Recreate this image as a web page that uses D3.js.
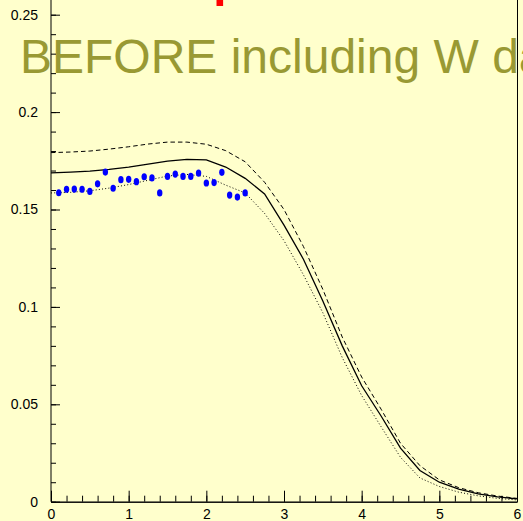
<!DOCTYPE html>
<html lang="en">
<head>
    <meta charset="UTF-8">
    <title>BEFORE including W data</title>
    <script src="https://d3js.org/d3.v7.min.js"></script>
    <style>
        body {
            margin: 0;
            padding: 0;
            background: #ffffcc;
        }
        svg {
            display: block;
            font-family: "Liberation Sans", Arial, sans-serif;
        }
        .axis text {
            font-size: 14px;
            fill: #000;
        }
        .axis path, .axis line {
            stroke: #000;
        }
    </style>
</head>
<body>
    <svg width="523" height="521"></svg>

    <script>
        // curve grid (x)
        const xGrid = [0, 0.25, 0.5, 0.75, 1, 1.25, 1.5, 1.75, 2, 2.25, 2.5, 2.75, 3,
                       3.25, 3.5, 3.75, 4, 4.25, 4.5, 4.75, 5, 5.25, 5.5, 5.75, 6];

        // central prediction (solid)
        const solidVals = [0.1688, 0.1692, 0.1697, 0.1706, 0.1718, 0.1733, 0.1748, 0.1757, 0.1755,
                           0.1718, 0.1660, 0.1580, 0.1420, 0.1245, 0.1030, 0.0800, 0.0595, 0.0440,
                           0.0275, 0.0160, 0.0100, 0.0065, 0.0040, 0.0025, 0.0014];

        // upper band (dashed)
        const dashedVals = [0.1792, 0.1795, 0.1800, 0.1810, 0.1822, 0.1836, 0.1846, 0.1846, 0.1835,
                            0.1802, 0.1745, 0.1640, 0.1500, 0.1310, 0.1090, 0.0845, 0.0640, 0.0475,
                            0.0300, 0.0185, 0.0112, 0.0072, 0.0046, 0.0029, 0.0017];

        // lower band (dotted)
        const dottedVals = [0.1585, 0.1588, 0.1596, 0.1610, 0.1628, 0.1650, 0.1672, 0.1680, 0.1670,
                            0.1625, 0.1585, 0.1480, 0.1340, 0.1165, 0.0970, 0.0740, 0.0545, 0.0385,
                            0.0228, 0.0122, 0.0078, 0.0049, 0.0030, 0.0017, 0.0009];

        // measured points
        const dataX = [0.1, 0.2, 0.3, 0.4, 0.5, 0.6, 0.7, 0.8, 0.9, 1.0, 1.1, 1.2, 1.3,
                       1.4, 1.5, 1.6, 1.7, 1.8, 1.9, 2.0, 2.1, 2.2, 2.3, 2.4, 2.5];
        const dataY = [0.1586, 0.1604, 0.1605, 0.1604, 0.1593, 0.1632, 0.1692, 0.1609, 0.1653,
                       0.1655, 0.1643, 0.1668, 0.1662, 0.1585, 0.1670, 0.1682, 0.1670, 0.1670,
                       0.1687, 0.1636, 0.1638, 0.1691, 0.1574, 0.1564, 0.1585];

        const xMajor = [0, 1, 2, 3, 4, 5, 6];
        const yMajor = [0, 0.05, 0.1, 0.15, 0.2, 0.25];

        const titleText = "BEFORE including W data";

        const svg = d3.select("svg");

        const x = d3.scaleLinear().domain([0, 6]).range([51, 517]);
        const y = d3.scaleLinear().domain([0, 0.25]).range([501.7, 14.7]);

        // big title behind the frame (runs past the right edge, as in the original)
        svg.append("text")
            .attr("x", 20)
            .attr("y", 72.7)
            .attr("font-size", 48)
            .attr("fill", "#999933")
            .text(titleText);

        // red marker cut at the top
        svg.append("rect")
            .attr("x", x(2.131))
            .attr("y", 0)
            .attr("width", 6.6)
            .attr("height", 6)
            .attr("fill", "#ff0000");

        // curves
        const line = d3.line().x(d => x(d[0])).y(d => y(d[1]));
        const curves = [
            { vals: dashedVals, dash: "4.5,3", w: 1 },
            { vals: dottedVals, dash: "1,2.2", w: 1 },
            { vals: solidVals, dash: null, w: 1.3 }
        ];
        curves.forEach(c => {
            svg.append("path")
                .datum(xGrid.map((xv, i) => [xv, c.vals[i]]))
                .attr("fill", "none")
                .attr("stroke", "#000")
                .attr("stroke-width", c.w)
                .attr("stroke-dasharray", c.dash)
                .attr("d", line);
        });

        // data points
        svg.selectAll(".pt")
            .data(dataX.map((xv, i) => [xv, dataY[i]]))
            .join("ellipse")
            .attr("class", "pt")
            .attr("cx", d => x(d[0]))
            .attr("cy", d => y(d[1]))
            .attr("rx", 2.7)
            .attr("ry", 3.6)
            .attr("fill", "#0000ff");

        // x axis: minor then major
        svg.append("g")
            .attr("class", "axis")
            .attr("transform", "translate(0,501.7)")
            .call(d3.axisBottom(x).tickValues(d3.range(0, 6.001, 0.2)).tickSizeInner(-6).tickSizeOuter(0).tickFormat(""));
        svg.append("g")
            .attr("class", "axis")
            .attr("transform", "translate(0,501.7)")
            .call(d3.axisBottom(x).tickValues(xMajor).tickSizeInner(-11).tickSizeOuter(0).tickPadding(7).tickFormat(d3.format("d")));

        // y axis: minor then major
        svg.append("g")
            .attr("class", "axis")
            .attr("transform", "translate(51,0)")
            .call(d3.axisLeft(y).tickValues(d3.range(0, 0.2501, 0.01)).tickSizeInner(-5).tickSizeOuter(0).tickFormat(""))
            .select(".domain").remove();
        svg.append("g")
            .attr("class", "axis")
            .attr("transform", "translate(51,0)")
            .call(d3.axisLeft(y).tickValues(yMajor).tickSizeInner(-9).tickSizeOuter(0).tickPadding(13).tickFormat(d => d === 0 ? "0" : String(+d.toFixed(2))))
            .select(".domain").remove();

        // left axis line and right frame reaching the top edge
        svg.append("line")
            .attr("x1", 51).attr("x2", 51)
            .attr("y1", 0).attr("y2", 501.7)
            .attr("stroke", "#000");
        svg.append("line")
            .attr("x1", 517.5).attr("x2", 517.5)
            .attr("y1", 0).attr("y2", 501.7)
            .attr("stroke", "#000");
    </script>
</body>
</html>
